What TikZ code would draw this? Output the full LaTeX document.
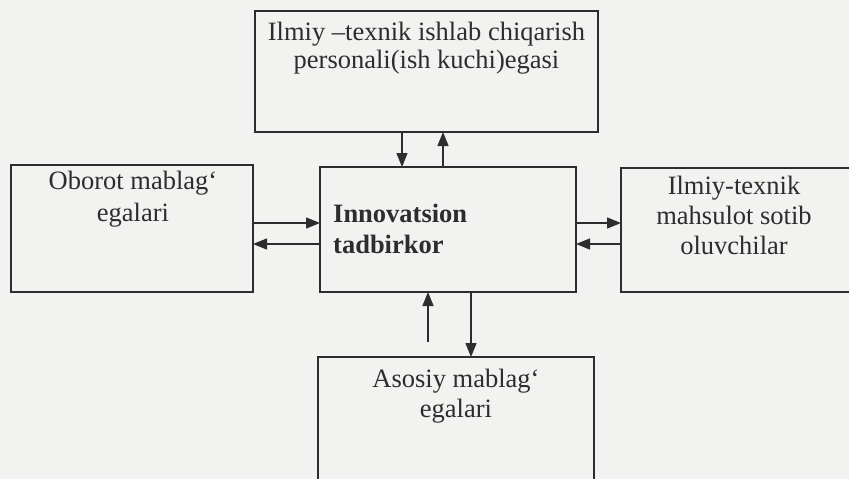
\documentclass[tikz,border=0pt]{standalone}
\usepackage{fontspec}
\setmainfont{Liberation Serif}
\usetikzlibrary{arrows.meta}
\definecolor{ink}{RGB}{45,45,45}
\definecolor{paper}{RGB}{242,242,240}
\begin{document}
\begin{tikzpicture}[x=1pt,y=-1pt,
  box/.style={draw=ink, line width=1.4pt, rectangle, inner sep=0pt, outer sep=0pt},
  lbl/.style={text=ink, font=\fontsize{26.5}{30}\selectfont, inner sep=0pt, anchor=base},
  blbl/.style={lbl, font=\fontsize{26.5}{30}\selectfont\bfseries, anchor=base west},
  arr/.style={draw=ink, line width=1.3pt, -{Triangle[length=14pt,width=11pt]}}]
\clip (0,0) rectangle (849,479);
\fill[paper] (0,0) rectangle (849,479);
% boxes
\node[box, minimum width=343pt, minimum height=121pt] (top) at (426.5,71.5) {};
\node[box, minimum width=242pt, minimum height=127pt] (left) at (132,228.5) {};
\node[box, minimum width=256pt, minimum height=125pt] (ctr) at (448,229.5) {};
\node[box, minimum width=230pt, minimum height=124pt] (right) at (736,230) {};
\node[box, minimum width=276pt, minimum height=143pt] (bot) at (456,428.5) {};
% texts
\node[lbl] (t1) at (426.5,40) {Ilmiy –texnik ishlab chiqarish};
\node[lbl] (t2) at (426.5,68) {personali(ish kuchi)egasi};
\node[lbl] (l1) at (133,189) {Oborot mablag`};
\node[lbl] (l2) at (133,221) {egalari};
\node[blbl] (c1) at (333,222) {Innovatsion};
\node[blbl] (c2) at (333,253) {tadbirkor};
\node[lbl] (r1) at (734,194) {Ilmiy-texnik};
\node[lbl] (r2) at (734,224) {mahsulot sotib};
\node[lbl] (r3) at (734,254) {oluvchilar};
\node[lbl] (b1) at (456,387) {Asosiy mablag`};
\node[lbl] (b2) at (456,417) {egalari};
% connector positions
\coordinate (xa) at (402,0);
\coordinate (xb) at (443,0);
\coordinate (xc) at (428,0);
\coordinate (xd) at (471,0);
\coordinate (ya) at (0,223);
\coordinate (yb) at (0,244);
\coordinate (ue) at (428,342);
% connectors
\draw[arr] (top.south -| xa) -- (ctr.north -| xa);
\draw[arr] (ctr.north -| xb) -- (top.south -| xb);
\draw[arr] (left.east |- ya) -- (ctr.west |- ya);
\draw[arr] (ctr.west |- yb) -- (left.east |- yb);
\draw[arr] (ctr.east |- ya) -- (right.west |- ya);
\draw[arr] (right.west |- yb) -- (ctr.east |- yb);
\draw[arr] (ue) -- (ctr.south -| xc);
\draw[arr] (ctr.south -| xd) -- (bot.north -| xd);
\end{tikzpicture}
\end{document}
